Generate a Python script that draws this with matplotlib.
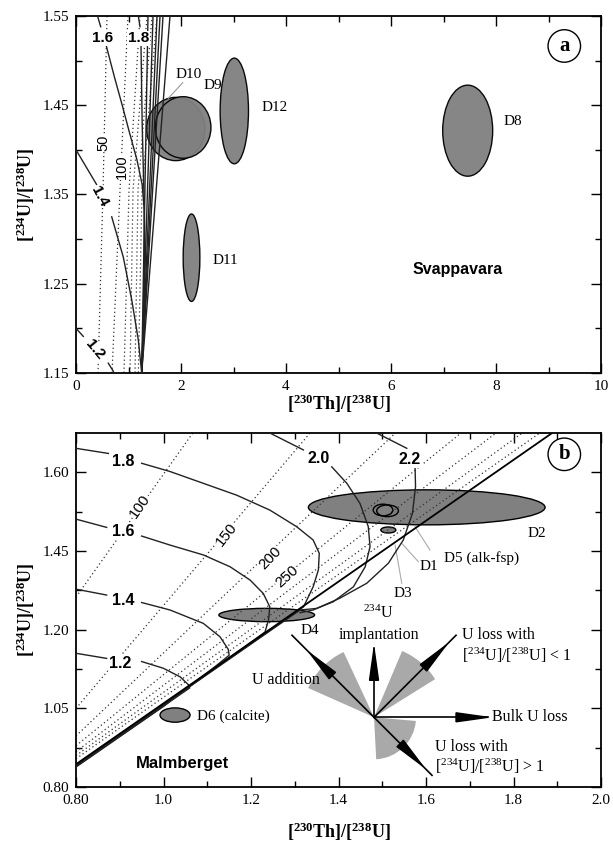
import matplotlib
matplotlib.use('Agg')
import matplotlib.pyplot as plt
from matplotlib.patches import Ellipse, Wedge, Polygon
import numpy as np

plt.rcParams['font.family'] = ['Liberation Serif', 'DejaVu Serif']
plt.rcParams['mathtext.fontset'] = 'custom'
plt.rcParams['mathtext.rm'] = 'Liberation Serif'
plt.rcParams['mathtext.it'] = 'Liberation Serif:italic'
plt.rcParams['mathtext.bf'] = 'Liberation Serif:bold'

# ---------------- panel a (Svappavara) ----------------
# growth curves, split where the label sits: (x1, y1) before label, (x2, y2) after
a16_x1 = [0.41, 0.47]
a16_y1 = [1.550, 1.538]
a16_x2 = [0.57, 0.73, 0.88, 1.02, 1.16, 1.26, 1.30, 1.30, 1.28, 1.25]
a16_y2 = [1.518, 1.482, 1.450, 1.419, 1.389, 1.361, 1.333, 1.277, 1.209, 1.150]

a18_x1 = [1.187, 1.219]
a18_y1 = [1.550, 1.538]
a18_x2 = [1.238, 1.26, 1.295, 1.314, 1.286, 1.251]
a18_y2 = [1.516, 1.43, 1.348, 1.288, 1.209, 1.150]

a14_x1 = [0.0, 0.394]
a14_y1 = [1.400, 1.361]
a14_x2 = [0.68, 0.90, 1.061, 1.187, 1.251]
a14_y2 = [1.325, 1.280, 1.232, 1.187, 1.150]

a12_x1 = [0.0, 0.139]
a12_y1 = [1.200, 1.191]
a12_x2 = [0.615, 0.71, 0.72]
a12_y2 = [1.161, 1.152, 1.150]

# straight curves fanning out of the convergence point
a_fan_x0, a_fan_y0 = 1.251, 1.150
a_fan_top = [1.371, 1.467, 1.543, 1.600, 1.657, 1.790]

# isochrons (dotted), x at y = 1.55, 1.355, 1.15
a_iso_y = [1.55, 1.355, 1.15]
a_iso_x = [[0.590, 0.514, 0.419],
           [0.990, 0.838, 0.686],
           [1.219, 1.010, 0.914],
           [1.352, 1.086, 1.029],
           [1.448, 1.181, 1.124],
           [1.543, 1.257, 1.187]]

# samples: name, x, y, width, height
a_samples = [('D8', 7.46, 1.4215, 0.952, 0.102),
             ('D12', 3.015, 1.4436, 0.54, 0.1184),
             ('D11', 2.20, 1.2792, 0.318, 0.098),
             ('D10', 1.90, 1.4234, 1.11, 0.0709),
             ('D9', 2.04, 1.4251, 1.06, 0.069)]
a_sample_labels = [('D8', 8.32, 1.4316), ('D12', 3.79, 1.4477), ('D11', 2.84, 1.2766),
                   ('D10', 2.14, 1.485), ('D9', 2.60, 1.4716)]

# ---------------- panel b (Malmberget) ----------------
b18_x1 = [0.8, 0.874]
b18_y1 = [1.661, 1.648]
b18_x2 = [0.950, 1.015, 1.091, 1.167, 1.243, 1.304, 1.342, 1.356, 1.354, 1.342, 1.320, 1.0, 0.8]
b18_y2 = [1.623, 1.602, 1.572, 1.542, 1.504, 1.462, 1.428, 1.394, 1.352, 1.309, 1.258, 1.010, 0.855]

b16_x1 = [0.8, 0.870]
b16_y1 = [1.481, 1.460]
b16_x2 = [0.950, 1.015, 1.091, 1.152, 1.198, 1.228, 1.243, 1.240, 1.232, 1.0, 0.8]
b16_y2 = [1.438, 1.415, 1.390, 1.360, 1.326, 1.292, 1.258, 1.225, 1.194, 1.008, 0.853]

b14_x1 = [0.8, 0.870]
b14_y1 = [1.303, 1.288]
b14_x2 = [0.950, 1.015, 1.091, 1.129, 1.148, 1.150, 1.12, 1.0, 0.8]
b14_y2 = [1.269, 1.250, 1.216, 1.182, 1.150, 1.135, 1.108, 1.005, 0.851]

b12_x1 = [0.8, 0.870]
b12_y1 = [1.140, 1.127]
b12_x2 = [0.950, 0.9995, 1.038, 1.057, 1.060, 1.0, 0.8]
b12_y2 = [1.119, 1.102, 1.080, 1.060, 1.052, 1.006, 0.852]

b20_x1 = [1.243, 1.3195]
b20_y1 = [1.700, 1.657]
b20_x2 = [1.3845, 1.419, 1.449, 1.468, 1.472, 1.461, 1.434, 1.388, 1.350, 1.312, 1.0, 0.8]
b20_y2 = [1.614, 1.572, 1.521, 1.462, 1.411, 1.360, 1.309, 1.271, 1.254, 1.250, 1.009, 0.856]

b22_x1 = [1.487, 1.556]
b22_y1 = [1.700, 1.661]
b22_x2 = [1.575, 1.576, 1.569, 1.548, 1.514, 1.4645, 1.403, 1.342, 1.312]
b22_y2 = [1.610, 1.5635, 1.496, 1.428, 1.369, 1.318, 1.280, 1.250, 1.243]

b_line_x = [0.8, 1.887]
b_line_y = [0.858, 1.699]

# isochrons (dotted): left end at x = 0.8, right end at y = 1.70
b_iso_left_y = [1.283, 1.000, 0.930, 0.905, 0.890, 0.880, 0.872]
b_iso_top_x = [1.067, 1.335, 1.530, 1.680, 1.760, 1.820, 1.860]
b_iso_labels = [('100', 0.946, 1.513, 55), ('150', 1.1445, 1.441, 52),
                ('200', 1.243, 1.382, 46), ('250', 1.2816, 1.335, 42)]

b_samples = [('D2', 1.6016, 1.511, 0.541, 0.089),
             ('D4', 1.2359, 1.2373, 0.2187, 0.0339),
             ('D6', 1.0263, 0.983, 0.0686, 0.0364),
             ('D3', 1.5138, 1.4534, 0.0343, 0.0153)]
b_open = [('D5', 1.5017, 1.5042, 0.045, 0.0297),
          ('D1', 1.512, 1.5022, 0.0496, 0.0297)]
b_sample_labels = [('D2', 1.853, 1.445, 'center'), ('D4', 1.335, 1.199, 'center'),
                   ('D6 (calcite)', 1.076, 0.979, 'left'), ('D5 (alk-fsp)', 1.7273, 1.3814, 'center'),
                   ('D1', 1.6053, 1.360, 'center'), ('D3', 1.548, 1.292, 'center')]
b_leaders = [([1.609, 1.5749], [1.4025, 1.4618]),
             ([1.5824, 1.5445], [1.3728, 1.4196]),
             ([1.5445, 1.5292], [1.3179, 1.4153])]

# schematic of U-series processes (pixel-like units, centre at origin)
arrow_ang = [90, 45, 0, -45, 135]
arrow_len = [69, 116, 114, 82, 116]
arrow_tip = [69, 102, 114, 69, 91]
wedges = [(115, 156, 72), (32, 67, 72), (-87, -5, 42)]

fig = plt.figure(figsize=(6.13, 8.46), dpi=100)
axa = fig.add_axes([0.124, 0.5591, 0.8565, 0.422])
axb = fig.add_axes([0.124, 0.0697, 0.8565, 0.4185])

lw_c = 1.0
dot = (0, (1, 2.2))
gray = '#808080'
sans = ['Liberation Sans', 'DejaVu Sans']

# ---- panel a drawing ----
for xs, ys in [(a16_x1, a16_y1), (a16_x2, a16_y2), (a18_x1, a18_y1), (a18_x2, a18_y2),
               (a14_x1, a14_y1), (a14_x2, a14_y2), (a12_x1, a12_y1), (a12_x2, a12_y2)]:
    axa.plot(xs, ys, color='#222222', lw=lw_c, zorder=3)
for xt in a_fan_top:
    axa.plot([a_fan_x0, xt], [a_fan_y0, 1.55], color='#222222', lw=lw_c, zorder=3)
for xs in a_iso_x:
    axa.plot(xs, a_iso_y, color='#333333', lw=0.9, ls=dot, zorder=2)

for name, x, y, w, h in a_samples:
    axa.add_patch(Ellipse((x, y), w, h, fc=gray, ec='black', lw=1.0, alpha=0.95, zorder=1))
for name, x, y in a_sample_labels:
    axa.text(x, y, name, ha='center', va='center', fontsize=11)
axa.plot([2.032, 1.758], [1.4753, 1.4578], color='#999999', lw=0.8)

for s, x, y, r in [('1.6', 0.514, 1.525, 0), ('1.8', 1.187, 1.525, 0),
                   ('1.4', 0.457, 1.348, -62), ('1.2', 0.362, 1.176, -50)]:
    axa.text(x, y, s, ha='center', va='center', fontsize=11, fontweight='bold', family=sans,
             rotation=r, zorder=5,
             bbox=dict(boxstyle='square,pad=0.05', fc='white', ec='none'))
for s, x, y in [('50', 0.514, 1.408), ('100', 0.870, 1.381)]:
    axa.text(x, y, s, ha='center', va='center', fontsize=10.5, family=sans, rotation=90, zorder=5,
             bbox=dict(boxstyle='square,pad=0.05', fc='white', ec='none'))

axa.text(7.276, 1.266, 'Svappavara', ha='center', va='center', fontsize=11.5,
         fontweight='bold', family=sans)
axa.text(9.30, 1.5164, 'a', ha='center', va='center', fontsize=15, fontweight='bold',
         bbox=dict(boxstyle='circle,pad=0.3', fc='white', ec='black', lw=1.0))

axa.set_xlim(0, 10)
axa.set_ylim(1.15, 1.55)
axa.set_xticks([0, 2, 4, 6, 8, 10])
axa.set_xticks([1, 3, 5, 7, 9], minor=True)
axa.set_yticks([1.15, 1.25, 1.35, 1.45, 1.55])
axa.set_yticklabels(['1.15', '1.25', '1.35', '1.45', '1.55'])
axa.set_yticks([1.20, 1.30, 1.40, 1.50], minor=True)
axa.set_xlabel(r'$\mathbf{[^{230}Th]/[^{238}U]}$', fontsize=13, labelpad=0)
axa.set_ylabel(r'$\mathbf{[^{234}U]/[^{238}U]}$', fontsize=13, labelpad=4)

# ---- panel b drawing ----
for xs, ys in [(b18_x1, b18_y1), (b18_x2, b18_y2), (b16_x1, b16_y1), (b16_x2, b16_y2),
               (b14_x1, b14_y1), (b14_x2, b14_y2), (b12_x1, b12_y1), (b12_x2, b12_y2),
               (b20_x1, b20_y1), (b20_x2, b20_y2), (b22_x1, b22_y1), (b22_x2, b22_y2)]:
    axb.plot(xs, ys, color='#222222', lw=lw_c, zorder=3)
axb.plot(b_line_x, b_line_y, color='black', lw=1.3, zorder=3)
for yl, xt in zip(b_iso_left_y, b_iso_top_x):
    axb.plot([0.8, xt], [yl, 1.70], color='#333333', lw=0.9, ls=dot, zorder=2)
for s, x, y, r in b_iso_labels:
    axb.text(x, y, s, ha='center', va='center', fontsize=11, family=sans, rotation=r, zorder=5,
             bbox=dict(boxstyle='square,pad=0.05', fc='white', ec='none'))

for s, x, y in [('1.8', 0.908, 1.627), ('1.6', 0.908, 1.449), ('1.4', 0.908, 1.275),
                ('1.2', 0.901, 1.1145), ('2.0', 1.354, 1.634), ('2.2', 1.5635, 1.633)]:
    axb.text(x, y, s, ha='center', va='center', fontsize=11.5, fontweight='bold', family=sans,
             zorder=5, bbox=dict(boxstyle='square,pad=0.05', fc='white', ec='none'))

for name, x, y, w, h in b_samples:
    axb.add_patch(Ellipse((x, y), w, h, fc=gray, ec='black', lw=1.0, zorder=1))
for name, x, y, w, h in b_open:
    axb.add_patch(Ellipse((x, y), w, h, fc='none', ec='black', lw=1.0, zorder=4))
for s, x, y, ha in b_sample_labels:
    axb.text(x, y, s, ha=ha, va='center', fontsize=11)
for xs, ys in b_leaders:
    axb.plot(xs, ys, color='#aaaaaa', lw=0.8)

axb.text(1.4903, 1.2416, r'$^{234}$U', ha='center', va='center', fontsize=11.5)
axb.text(1.4926, 1.1864, 'implantation', ha='center', va='center', fontsize=11.5)
axb.text(1.6816, 1.1864, 'U loss with', ha='left', va='center', fontsize=11.5)
axb.text(1.6816, 1.1356, r'[$^{234}$U]/[$^{238}$U] < 1', ha='left', va='center', fontsize=11.5)
axb.text(1.750, 0.9772, 'Bulk U loss', ha='left', va='center', fontsize=11.5)
axb.text(1.6206, 0.9024, 'U loss with', ha='left', va='center', fontsize=11.5)
axb.text(1.6206, 0.8516, r'[$^{234}$U]/[$^{238}$U] > 1', ha='left', va='center', fontsize=11.5)
axb.text(1.2796, 1.072, 'U addition', ha='center', va='center', fontsize=11.5)

axb.text(1.043, 0.861, 'Malmberget', ha='center', va='center', fontsize=12,
         fontweight='bold', family=sans)
axb.text(1.916, 1.6458, 'b', ha='center', va='center', fontsize=15, fontweight='bold',
         bbox=dict(boxstyle='circle,pad=0.3', fc='white', ec='black', lw=1.0))

axb.set_xlim(0.8, 2.0)
axb.set_ylim(0.8, 1.7)
axb.set_xticks([0.8, 1.0, 1.2, 1.4, 1.6, 1.8, 2.0])
axb.set_xticklabels(['0.80', '1.0', '1.2', '1.4', '1.6', '1.8', '2.0'])
axb.set_xticks([0.9, 1.1, 1.3, 1.5, 1.7, 1.9], minor=True)
axb.set_yticks([0.8, 1.0, 1.2, 1.4, 1.6])
axb.set_yticklabels(['0.80', '1.05', '1.20', '1.45', '1.60'])
axb.set_yticks([0.9, 1.1, 1.3, 1.5], minor=True)
axb.set_xlabel(r'$\mathbf{[^{230}Th]/[^{238}U]}$', fontsize=13, labelpad=10)
axb.set_ylabel(r'$\mathbf{[^{234}U]/[^{238}U]}$', fontsize=13, labelpad=4)

for ax in (axa, axb):
    ax.tick_params(which='both', direction='in', top=True, right=True, labelsize=11, pad=5)
    ax.tick_params(which='major', length=7, width=1.0)
    ax.tick_params(which='minor', length=4, width=1.0)
    for sp in ax.spines.values():
        sp.set_linewidth(1.3)

# ---- inset schematic (drawn behind panel b so its texts stay on top) ----
axi = fig.add_axes([0.4405, 0.0709, 0.5383, 0.2199])
axi.set_xlim(-104, 226)
axi.set_ylim(-68.7, 117.3)
axi.axis('off')
axi.set_zorder(0)
axb.set_zorder(1)
axb.patch.set_visible(False)
for a1, a2, r in wedges:
    axi.add_patch(Wedge((0, 0), r, a1, a2, fc='#a9a9a9', ec='none', zorder=1))
for ang, ln, tip in zip(arrow_ang, arrow_len, arrow_tip):
    c, s = np.cos(np.radians(ang)), np.sin(np.radians(ang))
    axi.plot([0, ln * c], [0, ln * s], color='black', lw=1.2, zorder=2)
    base = tip - 32
    hw = 4.5
    pts = [(tip * c, tip * s), (base * c - hw * s, base * s + hw * c), (base * c + hw * s, base * s - hw * c)]
    axi.add_patch(Polygon(pts, closed=True, fc='black', ec='black', zorder=3))

fig.savefig('out.png', dpi=100)
